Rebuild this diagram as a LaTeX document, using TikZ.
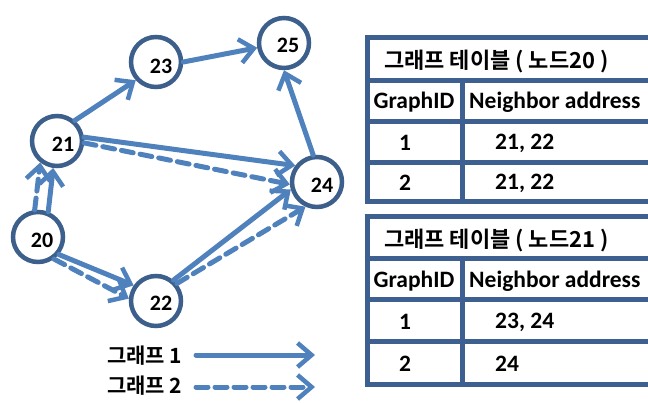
\documentclass[tikz,border=0pt]{standalone}
\usepackage{fontspec}
\setmainfont{Carlito}
\newfontfamily\kr{Noto Sans CJK KR Bold}
\usetikzlibrary{arrows.meta}
\definecolor{ring}{HTML}{3C5F8C}
\definecolor{edgeblue}{HTML}{4F81BD}
\definecolor{grid}{HTML}{3D6091}
\tikzset{
  vert/.style={circle, draw=ring, line width=4.5pt, fill=white, minimum size=50pt, inner sep=0pt},
  num/.style={font=\fontsize{22}{22}\selectfont\bfseries, inner sep=0pt},
  link/.style={draw=edgeblue, line width=5pt, line cap=round,
    -{Straight Barb[length=14pt,width=24pt,line width=4.5pt]}},
  dashlink/.style={link, dash pattern=on 12pt off 7pt},
  krtext/.style={font=\kr\fontsize{21}{21}\selectfont, inner sep=0pt, anchor=west},
  krtitle/.style={krtext, font=\kr\fontsize{22}{22}\selectfont},
  cell/.style={font=\fontsize{23.5}{23.5}\selectfont\bfseries, inner sep=0pt},
  gridline/.style={draw=grid, line width=5pt}
}
\begin{document}
\begin{tikzpicture}[x=1pt,y=-1pt]
\useasboundingbox (0,0) rectangle (648,403);
\clip (0,0) rectangle (648,403);

% vertices
\node[vert] (n20) at (38,237) {};
\node[vert] (n21) at (57,141) {};
\node[vert] (n23) at (156,62) {};
\node[vert] (n25) at (284,43) {};
\node[vert] (n24) at (317,182) {};
\node[vert] (n22) at (156,301) {};

% edges of graph 1 (solid) and graph 2 (dashed)
\draw[dashlink] (n20.97) -- (n21.232);
\draw[link] (n20.68) -- (n21.262);
\draw[link] (n20.-40) -- (n22.145);
\draw[dashlink] (n20.-54) -- (n22.175);
\draw[link] (n21.49) -- (n23.222);
\draw[link] (n23.0) -- (n25.190);
\draw[link] (n21.8) -- (n24.143);
\draw[dashlink] (n21.-4) -- (n24.185);
\draw[link] (n22.50) -- (n24.196);
\draw[dashlink] (n22.40) -- (n24.245);
\draw[link] (n24.98) -- (n25.270);

% vertex labels
\node[num] (t20) at (42,240) {20};
\node[num] (t21) at (63,144) {21};
\node[num] (t23) at (161,66) {23};
\node[num] (t25) at (288,45) {25};
\node[num] (t24) at (322,185) {24};
\node[num] (t22) at (161,303) {22};

% legend
\node[krtext] (g1) at (107,356) {그래프 1};
\node[krtext] (g2) at (107,386) {그래프 2};
\coordinate (g1s) at (196,355);
\coordinate (g1e) at (315,355);
\coordinate (g2s) at (196,387);
\coordinate (g2e) at (315,387);
\draw[link] (g1s) -- (g1e);
\draw[dashlink] (g2s) -- (g2e);

% table for node 20
\foreach \y in {38,81,122,163,202} \draw[gridline] (364.5,\y) -- (660,\y);
\draw[gridline] (367,35.5) -- (367,204.5);
\draw[gridline] (462,81) -- (462,202);
\node[krtitle] (h20) at (384,61) {그래프 테이블 ( 노드20 )};
\node[cell] (c20a) at (414,102) {GraphID};
\node[cell, anchor=west] (c20b) at (469,102) {Neighbor address};
\node[cell] (c20c) at (405,143) {1};
\node[cell, anchor=west] (c20d) at (495,143) {21, 22};
\node[cell] (c20e) at (405,183) {2};
\node[cell, anchor=west] (c20f) at (495,183) {21, 22};

% table for node 21
\foreach \y in {217,259,300,342,384} \draw[gridline] (364.5,\y) -- (660,\y);
\draw[gridline] (367,214.5) -- (367,386.5);
\draw[gridline] (462,259) -- (462,384);
\node[krtitle] (h21) at (384,240) {그래프 테이블 ( 노드21 )};
\node[cell] (c21a) at (414,281) {GraphID};
\node[cell, anchor=west] (c21b) at (469,281) {Neighbor address};
\node[cell] (c21c) at (405,322) {1};
\node[cell, anchor=west] (c21d) at (495,322) {23, 24};
\node[cell] (c21e) at (405,364) {2};
\node[cell, anchor=west] (c21f) at (495,364) {24};
\end{tikzpicture}
\end{document}
